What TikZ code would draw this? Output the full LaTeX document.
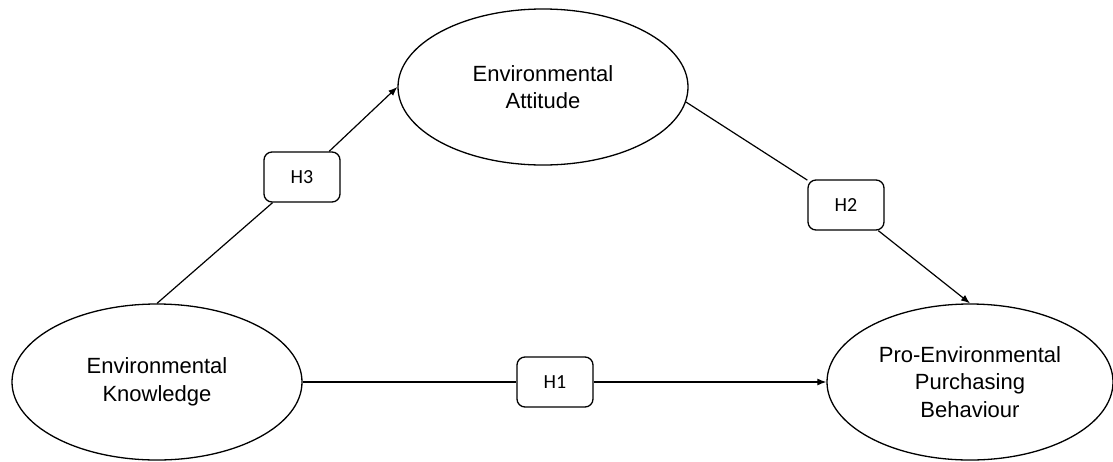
\documentclass[tikz,border=0pt]{standalone}
\usepackage{fontspec}
\setmainfont{Liberation Sans}
\newfontfamily\hypfont{Carlito}
\usetikzlibrary{shapes.geometric,arrows.meta}

\begin{document}
\begin{tikzpicture}[x=0.5pt,y=-0.5pt,
	construct/.style={draw,ellipse,line width=0.65pt,inner sep=0pt,minimum width=145pt,minimum height=78pt,align=center,font=\fontsize{11}{13.8}\selectfont},
	hyp/.style={draw,rounded corners=4pt,line width=0.65pt,minimum width=38pt,minimum height=25pt,inner sep=0pt,font=\hypfont\fontsize{10}{12}\selectfont},
	link/.style={line width=0.6pt},
	effect/.style={link,-{Latex[length=4.5pt,width=3.5pt]}}]
	\useasboundingbox (0,0) rectangle (1113,461);
	
	% constructs
	\node[construct] (know) at (157,382) {Environmental\\Knowledge};
	\node[construct] (att) at (543,87) {Environmental\\Attitude};
	\node[construct,minimum width=143pt] (beh) at (970,382) {Pro-Environmental\\Purchasing\\Behaviour};
	
	% hypotheses
	\node[hyp] (h3) at (302,177) {H3};
	\node[hyp] (h2) at (846,205) {H2};
	\node[hyp] (h1) at (555,382) {H1};
	
	\draw[link] (know.north) -- (h3);
	\draw[effect] (h3) -- (att.west);
	\draw[link] (att.-6) -- (h2);
	\draw[effect] (h2) -- (beh.north);
	\draw[link] (know.east) -- (h1);
	\draw[effect] (h1) -- (beh.west);
	
\end{tikzpicture}
\end{document}
